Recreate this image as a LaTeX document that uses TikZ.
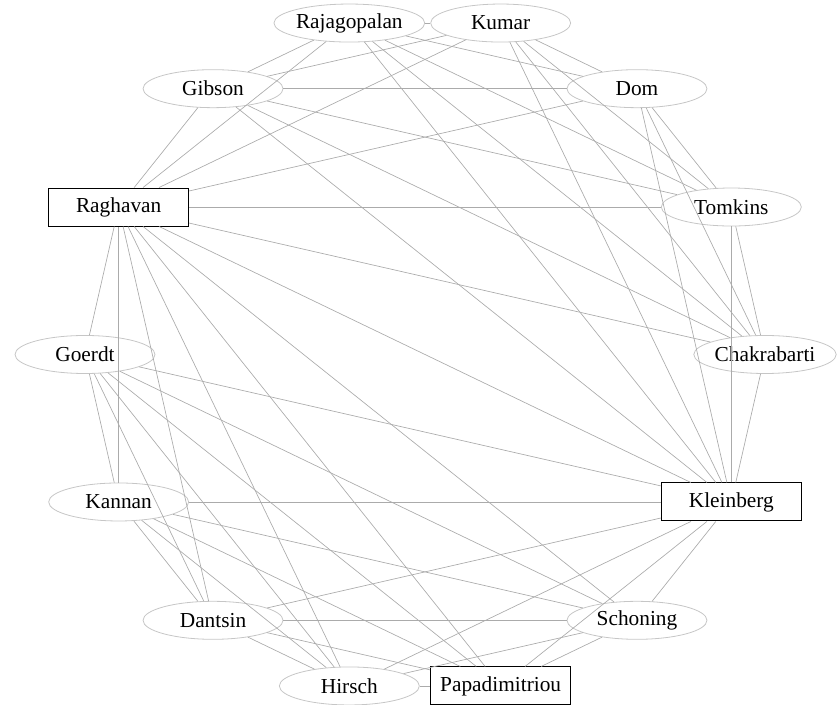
\documentclass[tikz,border=0pt]{standalone}
\usepackage{fontspec}
\setmainfont{Liberation Serif}
\usepackage{xcolor}
\usepackage{tikz}
\usetikzlibrary{shapes.geometric}
\definecolor{edgegray}{HTML}{ABABAB}
\definecolor{ringgray}{HTML}{C6C6C6}

\begin{document}
\begin{tikzpicture}[x=0.75pt,y=0.75pt,font=\fontsize{16}{18}\selectfont,
    author/.style={ellipse,draw=ringgray,line width=0.6pt,minimum width=105pt,minimum height=28.5pt,inner sep=0pt},
    lead/.style={rectangle,draw=black,line width=0.75pt,minimum width=105pt,minimum height=28.5pt,inner sep=0pt},
    link/.style={edgegray,line width=0.5pt}]
  \useasboundingbox (-425,-350.5) rectangle (413,354.5);
  % authors on the ring
  \foreach \n/\a/\t/\s in {raj/102.86/Rajagopalan/author,kum/77.14/Kumar/author,dom/51.43/Dom/author,
                           tom/25.71/Tomkins/author,cha/0/Chakrabarti/author,kle/-25.71/Kleinberg/lead,
                           sch/-51.43/Schoning/author,pap/-77.14/Papadimitriou/lead,hir/-102.86/Hirsch/author,
                           dan/-128.57/Dantsin/author,kan/-154.29/Kannan/author,goe/180/Goerdt/author,
                           rag/154.29/Raghavan/lead,gib/128.57/Gibson/author}
    {\node[\s] (\n) at (\a:340) {\t};}
  % k-SAT paper
  \foreach \p [count=\i] in {dan,goe,hir,kan,kle,pap,rag,sch}
    \foreach \q [count=\j] in {dan,goe,hir,kan,kle,pap,rag,sch}
      {\ifnum\j>\i \draw[link] (\p) -- (\q);\fi}
  % web papers (kle--rag is already there)
  \foreach \p [count=\i] in {cha,dom,gib,kle,kum,rag,raj,tom}
    \foreach \q [count=\j] in {cha,dom,gib,kle,kum,rag,raj,tom}
      {\ifnum\j>\i \ifnum\i\j=46 \else \draw[link] (\p) -- (\q);\fi\fi}
\end{tikzpicture}
\end{document}
